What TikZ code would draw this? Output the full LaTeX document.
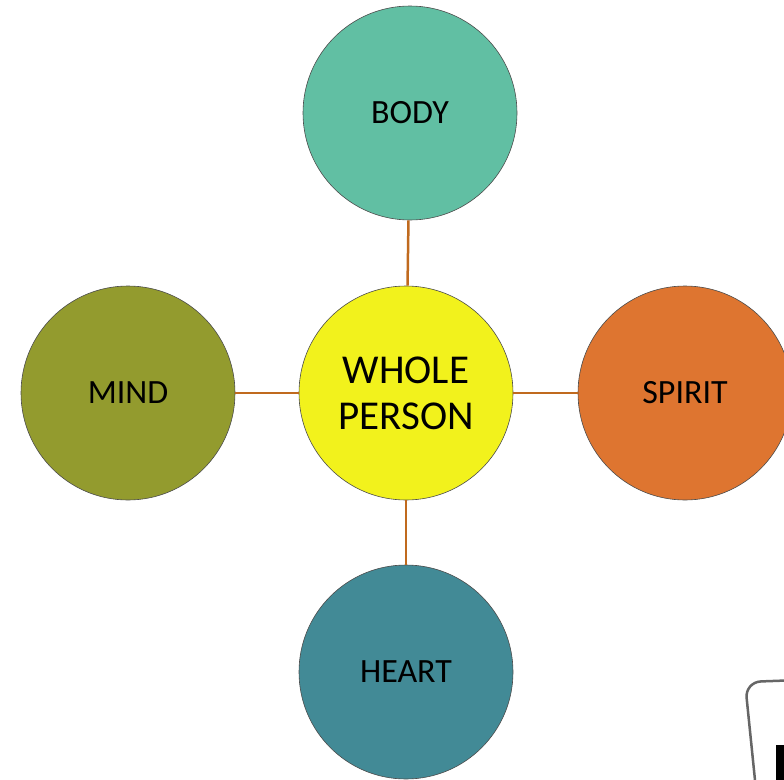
\documentclass[tikz,border=0pt]{standalone}
\usepackage{fontspec}
\setmainfont{Carlito}
\definecolor{cbody}{HTML}{61BFA3}
\definecolor{cwhole}{HTML}{F2F21C}
\definecolor{cmind}{HTML}{939B2E}
\definecolor{cspirit}{HTML}{DE7530}
\definecolor{cheart}{HTML}{428A96}
\definecolor{clink}{HTML}{C06A1E}
\begin{document}
\begin{tikzpicture}[x=1pt,y=-1pt,
  bubble/.style={circle, draw=black!70, line width=0.6pt, minimum size=214pt, inner sep=0pt, align=center, font=\fontsize{34}{40}\selectfont},
  link/.style={draw=clink, line width=2.5pt}]
\useasboundingbox (0,0) rectangle (784,779);
\begin{scope}
\clip (0,0) rectangle (784,779);
\node[bubble, fill=cbody] (body) at (410,113) {BODY};
\node[bubble, fill=cwhole, font=\fontsize{41}{46}\selectfont] (whole) at (406,393) {WHOLE\\PERSON};
\node[bubble, fill=cmind] (mind) at (128,393) {MIND};
\node[bubble, fill=cspirit] (spirit) at (685,393) {SPIRIT};
\node[bubble, fill=cheart] (heart) at (406,672) {HEART};
\draw[line width=2.5pt, draw=black!60, rounded corners=16pt] (756,790) -- (745,682) -- (800,680);
\fill[black] (776,745) rectangle (790,790);
\end{scope}
\draw[link] (body) -- (whole);
\draw[link] (whole) -- (heart);
\draw[link] (mind) -- (whole);
\draw[link] (whole) -- (spirit);
\end{tikzpicture}
\end{document}
